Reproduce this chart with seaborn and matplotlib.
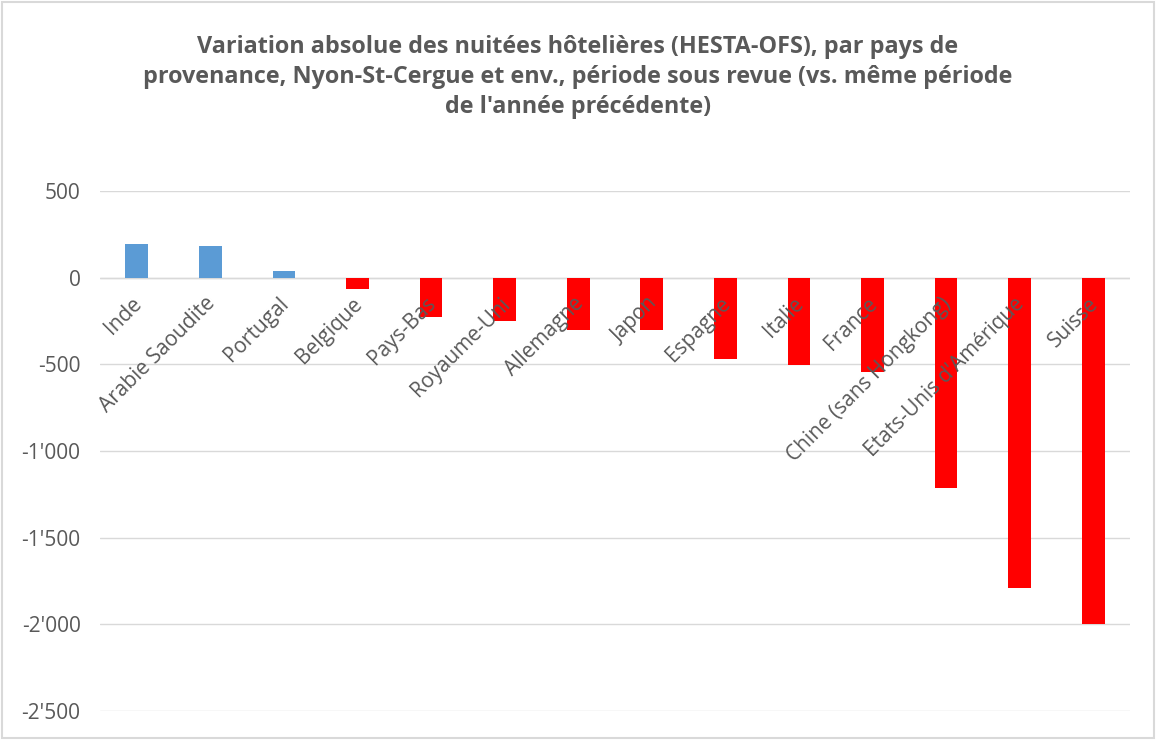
import matplotlib
matplotlib.use("Agg")
import matplotlib.pyplot as plt
import matplotlib.ticker as mticker
from matplotlib.patches import Rectangle
from matplotlib.transforms import offset_copy
import seaborn as sns

pays = ["Inde", "Arabie Saoudite", "Portugal", "Belgique", "Pays-Bas", "Royaume-Uni",
        "Allemagne", "Japon", "Espagne", "Italie", "France", "Chine (sans Hongkong)",
        "Etats-Unis d'Amérique", "Suisse"]
variation = [196, 181, 40, -63, -227, -248, -300, -300, -471, -501, -542, -1215, -1787, -2000]

BLEU = "#5B9BD5"
ROUGE = "#FF0000"
GRIS = "#595959"

sns.set_style("white")
plt.rcParams["font.family"] = ["Open Sans", "DejaVu Sans"]

fig = plt.figure(figsize=(11.56, 7.4), dpi=100)
ax = fig.add_axes([0.0865, 0.039, 0.891, 0.703])

couleurs = [BLEU if v >= 0 else ROUGE for v in variation]
sns.barplot(x=pays, y=variation, hue=pays, palette=couleurs, legend=False,
            width=0.31, saturation=1, ax=ax, zorder=3, linewidth=0)

ax.set_ylim(-2500, 500)
ax.set_xlim(-0.5, len(pays) - 0.5)
ax.yaxis.set_major_locator(mticker.MultipleLocator(500))
ax.yaxis.set_major_formatter(mticker.FuncFormatter(
    lambda v, p: f"{int(v):,}".replace(",", "'")))
ax.grid(axis="y", color="#D9D9D9", linewidth=1, zorder=0)
ax.set_axisbelow(True)
for s in ["top", "right", "left", "bottom"]:
    ax.spines[s].set_visible(False)
ax.axhline(0, color="#D9D9D9", linewidth=1, zorder=1)

ax.tick_params(axis="y", length=0, labelsize=15, labelcolor=GRIS, pad=14)
ax.set_xticks([])
ax.set_xlabel("")
ax.set_ylabel("")

# étiquettes des pays, posées sous l'axe zéro, par-dessus les barres
trans = offset_copy(ax.transData, fig=fig, x=2, y=-23, units="dots")
for i, nom in enumerate(pays):
    ax.text(i, 0, nom, transform=trans, rotation=45, rotation_mode="anchor",
            ha="right", va="center", fontsize=15, color=GRIS, zorder=5)

fig.text(0.5, 0.953,
         "Variation absolue des nuitées hôtelières (HESTA-OFS), par pays de\n"
         "provenance, Nyon-St-Cergue et env., période sous revue (vs. même période\n"
         "de l'année précédente)",
         ha="center", va="top", fontsize=16.8, fontweight="bold", color=GRIS,
         linespacing=1.33)

fig.patches.append(Rectangle((0.002, 0.003), 0.996, 0.994, transform=fig.transFigure,
                             fill=False, edgecolor="#D9D9D9", linewidth=1.5))

fig.savefig("out.png", dpi=100, facecolor="white")
